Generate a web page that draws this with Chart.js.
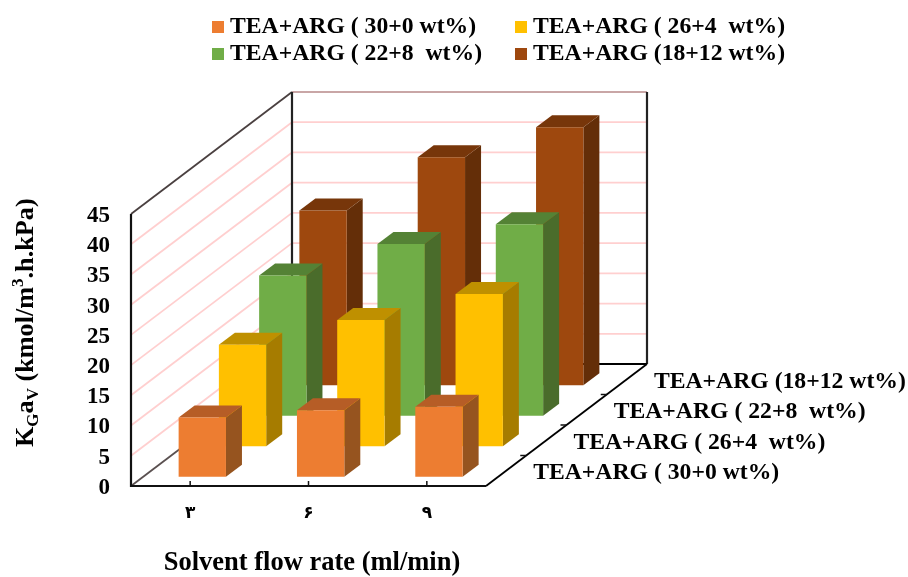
<!DOCTYPE html>
<html lang="en">
<head>
    <meta charset="UTF-8">
    <title>Solvent flow rate vs KGaV</title>
    <script src="https://cdn.jsdelivr.net/npm/chart.js"></script>
    <style>
        body { margin: 0; background: #ffffff; }
        canvas { display: block; }
    </style>
</head>
<body>
<canvas id="chart" width="908" height="577"></canvas>

<script>
    // Values
    const flowRates = ['۳', '۶', '۹'];
    const seriesNames = [
        'TEA+ARG ( 30+0 wt%)',
        'TEA+ARG ( 26+4  wt%)',
        'TEA+ARG ( 22+8  wt%)',
        'TEA+ARG (18+12 wt%)'
    ];
    const tea30arg0 = [9.8, 11.0, 11.6];
    const tea26arg4 = [16.8, 20.9, 25.2];
    const tea22arg8 = [23.2, 28.4, 31.7];
    const tea18arg12 = [28.9, 37.7, 42.7];

    const frontColors = ['#ED7D31', '#FFC000', '#70AD47', '#9E480E'];
    const topColors = ['#B65D26', '#BF9000', '#548235', '#77360A'];
    const sideColors = ['#96541F', '#A67C00', '#4A6C2B', '#642E08'];

    // Oblique projection used for the fake 3D depth
    const depthX = 161;
    const depthY = 122;
    const barDepthX = 16;
    const barDepthY = 12;
    const fontFamily = "'Liberation Serif', 'DejaVu Serif', serif";

    function seriesOffset(i) {
        const cellX = depthX / seriesNames.length;
        const cellY = depthY / seriesNames.length;
        return {
            x: (cellX - barDepthX) / 2 + i * cellX,
            y: (cellY - barDepthY) / 2 + i * cellY
        };
    }

    function line(ctx, x1, y1, x2, y2, color, width) {
        ctx.beginPath();
        ctx.moveTo(x1, y1);
        ctx.lineTo(x2, y2);
        ctx.strokeStyle = color;
        ctx.lineWidth = width;
        ctx.stroke();
    }

    function face(ctx, points, color) {
        ctx.beginPath();
        ctx.moveTo(points[0][0], points[0][1]);
        points.slice(1).forEach(p => ctx.lineTo(p[0], p[1]));
        ctx.closePath();
        ctx.fillStyle = color;
        ctx.fill();
    }

    const box3d = {
        id: 'box3d',
        // Walls, floor, wall grid and the axis ticks
        beforeDatasetsDraw(chart) {
            const ctx = chart.ctx;
            const area = chart.chartArea;
            const yScale = chart.scales.y;
            const xScale = chart.scales.x;
            ctx.save();
            yScale.ticks.forEach(tick => {
                if (tick.value === 0) return;
                const y = yScale.getPixelForValue(tick.value);
                const color = tick.value === 45 ? '#C9A6A6' : '#FFCFCF';
                if (tick.value !== 45) {
                    line(ctx, area.left, y, area.left + depthX, y - depthY, color, 1.8);
                }
                line(ctx, area.left + depthX, y - depthY, area.right + depthX, y - depthY, color, 1.8);
            });
            const top = yScale.getPixelForValue(45);
            line(ctx, area.left, top, area.left + depthX, top - depthY, '#4A4040', 1.8);
            line(ctx, area.left + depthX, top - depthY, area.left + depthX, area.bottom - depthY, '#222222', 2.2);
            line(ctx, area.right + depthX, top - depthY, area.right + depthX, area.bottom - depthY, '#222222', 2.2);
            line(ctx, area.left + depthX, area.bottom - depthY, area.right + depthX, area.bottom - depthY, '#000000', 1.8);
            line(ctx, area.left, area.bottom, area.left + depthX, area.bottom - depthY, '#5A5050', 1.8);
            line(ctx, area.right, area.bottom, area.right + depthX, area.bottom - depthY, '#000000', 1.8);
            line(ctx, area.left, top, area.left, area.bottom + 1, '#111111', 2.2);
            line(ctx, area.left - 1, area.bottom, area.right, area.bottom, '#111111', 2.2);

            flowRates.forEach((label, i) => {
                const x = xScale.getPixelForTick(i);
                line(ctx, x, area.bottom - 5, x, area.bottom, '#111111', 1.5);
            });
            // Depth axis ticks and labels
            const cellX = depthX / seriesNames.length;
            const cellY = depthY / seriesNames.length;
            for (let i = 1; i < seriesNames.length; i++) {
                const x = area.right + i * cellX;
                const y = area.bottom - i * cellY;
                line(ctx, x - 6, y, x, y, '#111111', 1.5);
            }
            ctx.fillStyle = '#000000';
            ctx.font = 'bold 23.7px ' + fontFamily;
            ctx.textAlign = 'left';
            ctx.textBaseline = 'middle';
            seriesNames.forEach((name, i) => {
                ctx.fillText(name, area.right + (i + 0.5) * cellX + 27, area.bottom - (i + 0.5) * cellY + 2.5);
            });
            ctx.restore();
        },
        // Each series is shifted back along the depth axis, then side and top faces are added
        beforeDatasetDraw(chart, args) {
            const ctx = chart.ctx;
            const off = seriesOffset(args.index);
            ctx.save();
            ctx.translate(off.x, -off.y);
            args.meta.data.forEach(bar => {
                const left = bar.x - bar.width / 2;
                const right = bar.x + bar.width / 2;
                face(ctx, [[right, bar.y], [right + barDepthX, bar.y - barDepthY],
                    [right + barDepthX, bar.base - barDepthY], [right, bar.base]], sideColors[args.index]);
                face(ctx, [[left, bar.y], [left + barDepthX, bar.y - barDepthY],
                    [right + barDepthX, bar.y - barDepthY], [right, bar.y]], topColors[args.index]);
            });
        },
        afterDatasetDraw(chart) {
            chart.ctx.restore();
        },
        // Legend and axis titles need a layout Chart.js does not offer
        afterDraw(chart) {
            const ctx = chart.ctx;
            ctx.save();
            ctx.font = 'bold 23.7px ' + fontFamily;
            ctx.textAlign = 'left';
            ctx.textBaseline = 'middle';
            chart.data.datasets.forEach((dataset, i) => {
                const x = i % 2 === 0 ? 212 : 515;
                const y = i < 2 ? 27 : 54;
                ctx.fillStyle = frontColors[i];
                ctx.fillRect(x, y - 6, 12, 12);
                ctx.fillStyle = '#000000';
                ctx.fillText(dataset.label, x + 18, y);
            });

            ctx.font = 'bold 26.5px ' + fontFamily;
            ctx.textAlign = 'center';
            ctx.fillText('Solvent flow rate (ml/min)', 312, 563);
            ctx.textAlign = 'left';

            // y title with sub and superscripts
            ctx.translate(33, 447);
            ctx.rotate(-Math.PI / 2);
            ctx.textBaseline = 'alphabetic';
            const runs = [
                ['K', 26.2, 0], ['G', 17, 5], ['a', 26.2, 0], ['V', 17, 5],
                [' (kmol/m', 26.2, 0], ['3', 17, -10], ['.h.kPa)', 26.2, 0]
            ];
            let pos = 0;
            runs.forEach(run => {
                ctx.font = 'bold ' + run[1] + 'px ' + fontFamily;
                ctx.fillText(run[0], pos, run[2]);
                pos += ctx.measureText(run[0]).width;
            });
            ctx.restore();
        }
    };

    const allSeries = [tea30arg0, tea26arg4, tea22arg8, tea18arg12];

    new Chart(document.getElementById('chart').getContext('2d'), {
        type: 'bar',
        plugins: [box3d],
        data: {
            labels: flowRates,
            datasets: allSeries.map((values, i) => ({
                label: seriesNames[i],
                data: values,
                backgroundColor: frontColors[i],
                grouped: false,
                barPercentage: 0.4,
                categoryPercentage: 1,
                clip: false
            }))
        },
        options: {
            responsive: false,
            animation: false,
            layout: { padding: { top: 214, right: 422, left: 0, bottom: 0 } },
            plugins: {
                legend: { display: false },
                tooltip: { enabled: false }
            },
            scales: {
                x: {
                    grid: { display: false },
                    border: { display: false },
                    afterFit: scale => { scale.height = 91; },
                    ticks: {
                        color: '#000000',
                        padding: 9,
                        font: { family: "'DejaVu Sans'", size: 17, weight: 'bold' }
                    }
                },
                y: {
                    min: 0,
                    max: 45,
                    grid: { display: false, drawTicks: false },
                    border: { display: false },
                    afterFit: scale => { scale.width = 131; },
                    ticks: {
                        stepSize: 5,
                        autoSkip: false,
                        labelOffset: 2,
                        color: '#000000',
                        padding: 21,
                        font: { family: fontFamily, size: 23, weight: 'bold' }
                    }
                }
            }
        }
    });
</script>
</body>
</html>
